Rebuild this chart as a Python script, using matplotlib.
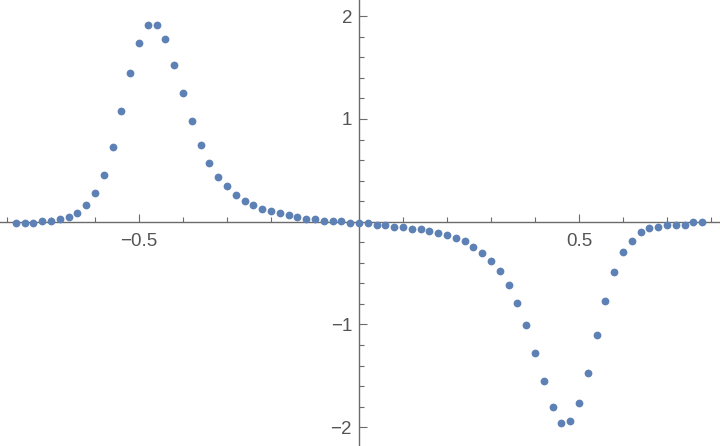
import numpy as np
import matplotlib
matplotlib.use("Agg")
import matplotlib.pyplot as plt

x_values = [-0.78, -0.76, -0.74, -0.72, -0.70, -0.68, -0.66, -0.64, -0.62, -0.60,
            -0.58, -0.56, -0.54, -0.52, -0.50, -0.48, -0.46, -0.44, -0.42, -0.40,
            -0.38, -0.36, -0.34, -0.32, -0.30, -0.28, -0.26, -0.24, -0.22, -0.20,
            -0.18, -0.16, -0.14, -0.12, -0.10, -0.08, -0.06, -0.04, -0.02, 0.00,
            0.02, 0.04, 0.06, 0.08, 0.10, 0.12, 0.14, 0.16, 0.18, 0.20,
            0.22, 0.24, 0.26, 0.28, 0.30, 0.32, 0.34, 0.36, 0.38, 0.40,
            0.42, 0.44, 0.46, 0.48, 0.50, 0.52, 0.54, 0.56, 0.58, 0.60,
            0.62, 0.64, 0.66, 0.68, 0.70, 0.72, 0.74, 0.76, 0.78]

y_values = [-0.01, -0.01, -0.01, 0.01, 0.01, 0.029, 0.049, 0.088, 0.165, 0.282,
            0.457, 0.73, 1.08, 1.45, 1.742, 1.917, 1.917, 1.781, 1.528, 1.256,
            0.983, 0.749, 0.574, 0.438, 0.343, 0.263, 0.204, 0.165, 0.127, 0.107,
            0.088, 0.068, 0.049, 0.029, 0.029, 0.01, 0.01, 0.01, -0.01, -0.01,
            -0.01, -0.029, -0.029, -0.049, -0.049, -0.068, -0.068, -0.088, -0.107, -0.127,
            -0.163, -0.183, -0.243, -0.302, -0.380, -0.477, -0.613, -0.788, -1.002, -1.275,
            -1.547, -1.800, -1.959, -1.937, -1.762, -1.470, -1.100, -0.769, -0.492, -0.298,
            -0.188, -0.103, -0.064, -0.052, -0.032, -0.032, -0.032, -0.006, -0.006]

x_major = [-0.5, 0.5]
x_major_labels = ["\u22120.5", "0.5"]
y_major = [-2, -1, 1, 2]
y_major_labels = ["\u22122", "\u22121", "1", "2"]
x_minor = [-0.8, -0.7, -0.6, -0.4, -0.3, -0.2, -0.1, 0.1, 0.2, 0.3, 0.4, 0.6, 0.7, 0.8]
y_minor = [-1.8, -1.6, -1.4, -1.2, -0.8, -0.6, -0.4, -0.2,
           0.2, 0.4, 0.6, 0.8, 1.2, 1.4, 1.6, 1.8]

point_color = "#5E81B5"
axis_color = "#6b6b6b"
text_color = "#555555"

plt.rcParams['font.family'] = ['Liberation Sans', 'DejaVu Sans']

fig = plt.figure(figsize=(7.2, 4.46), dpi=100)
ax = fig.add_axes([0, 0, 1, 1])
ax.set_facecolor("white")

ax.plot(x_values, y_values, linestyle="none", marker="o", markersize=5.6,
        markeredgewidth=0, color=point_color, zorder=3)

ax.set_xlim(-359 / 440, 361 / 440)
ax.set_ylim(-(446 - 221.7) / 102.75, 221.7 / 102.75)

for side in ["top", "right"]:
    ax.spines[side].set_visible(False)
ax.spines["left"].set_position(("data", 0))
ax.spines["bottom"].set_position(("data", 0))
for side in ["left", "bottom"]:
    ax.spines[side].set_color(axis_color)
    ax.spines[side].set_linewidth(1.0)

ax.set_xticks(x_major)
ax.set_xticklabels(x_major_labels)
ax.set_yticks(y_major)
ax.set_yticklabels(y_major_labels)
ax.set_xticks(x_minor, minor=True)
ax.set_yticks(y_minor, minor=True)

ax.tick_params(which="major", direction="in", length=5.5, width=0.8,
               color=axis_color, labelcolor=text_color, labelsize=13.5)
ax.tick_params(which="minor", direction="in", length=3.3, width=0.8,
               color=axis_color)
ax.tick_params(axis="x", which="major", pad=8)
ax.tick_params(axis="y", which="major", pad=5)

fig.savefig("out.png", dpi=100, facecolor="white")
